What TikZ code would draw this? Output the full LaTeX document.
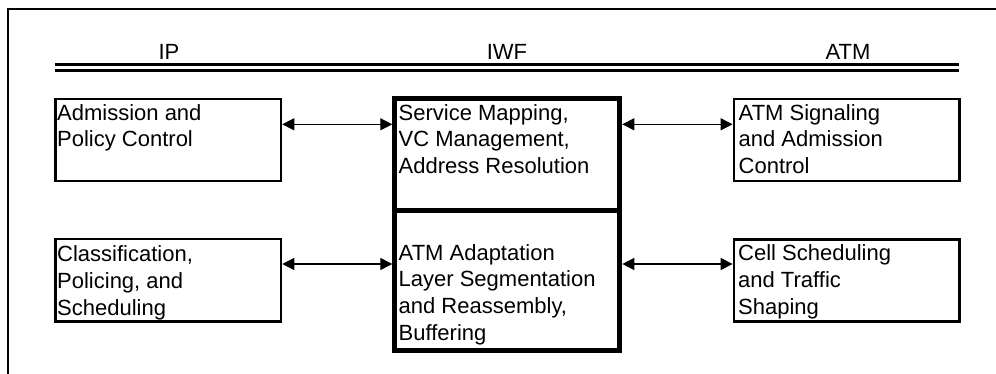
\documentclass[tikz,border=0pt]{standalone}
\usepackage{fontspec}
\setmainfont{Liberation Sans}
\usetikzlibrary{arrows.meta}

% strut that fixes the height of the first line of every box text
\newcommand{\firstline}{\rule{0pt}{18pt}}

\begin{document}
\begin{tikzpicture}[x=1pt, y=-1pt,
  every node/.style={inner sep=0pt},
  smallbox/.style={draw, line width=2.5pt, minimum width=225.5pt, minimum height=82.3pt},
  iwfbox/.style={draw, line width=5pt, minimum width=225pt},
  boxtext/.style={anchor=north west, align=left,
    font=\fontsize{22pt}{26.7pt}\selectfont},
  header/.style={anchor=base, font=\fontsize{22pt}{26.7pt}\selectfont},
  link/.style={line width=1.3pt, {Triangle[length=12pt,width=12pt]}-{Triangle[length=12pt,width=12pt]}}
]
\useasboundingbox (0,0) rectangle (996,374);

% outer frame (top and left edges)
\draw[line width=2pt] (8.3,374) -- (8.3,9) -- (996,9);

% column headings
\node[header] (hip)  at (169,59.5) {IP};
\node[header] (hiwf) at (507,59.5) {IWF};
\node[header] (hatm) at (848,59.5) {ATM};

% double rule under the headings
\draw[line width=2.7pt] (55,64.7) -- (959,64.7);
\draw[line width=2.7pt] (55,70.3) -- (959,70.3);

% IP side
\node[smallbox] (adm) at (168.25,140) {};
\node[smallbox] (cls) at (168.25,280.2) {};

% IWF column
\node[iwfbox, minimum height=111.7pt] (svc) at (507.3,154.65) {};
\node[iwfbox, minimum height=140pt]   (aal) at (507.3,280.5) {};

% ATM side
\node[smallbox] (sig) at (846.6,140) {};
\node[smallbox] (cell) at (846.6,280.5) {};

% box texts (first baseline 18pt below each node's top)
\node[boxtext] (tadm) at (57,102) {\firstline Admission and\\Policy Control};
\node[boxtext] (tcls) at (57,243.7) {\firstline Classification,\\Policing, and\\Scheduling};
\node[boxtext] (tsvc) at (398.5,102) {\firstline Service Mapping,\\VC Management,\\Address Resolution};
\node[boxtext] (taal) at (398.5,242) {\firstline ATM Adaptation\\Layer Segmentation\\and Reassembly,\\Buffering};
\node[boxtext] (tsig) at (738.5,102) {\firstline ATM Signaling\\and Admission\\Control};
\node[boxtext] (tcell) at (738,242.5) {\firstline Cell Scheduling\\and Traffic\\Shaping};

% row levels of the connectors
\coordinate (row1) at (0,124.3);
\coordinate (row2) at (0,264);

\draw[link] (adm.east |- row1) -- (svc.west |- row1);
\draw[link] (svc.east |- row1) -- (sig.west |- row1);
\draw[link] (cls.east |- row2) -- (aal.west |- row2);
\draw[link] (aal.east |- row2) -- (cell.west |- row2);
\end{tikzpicture}
\end{document}
